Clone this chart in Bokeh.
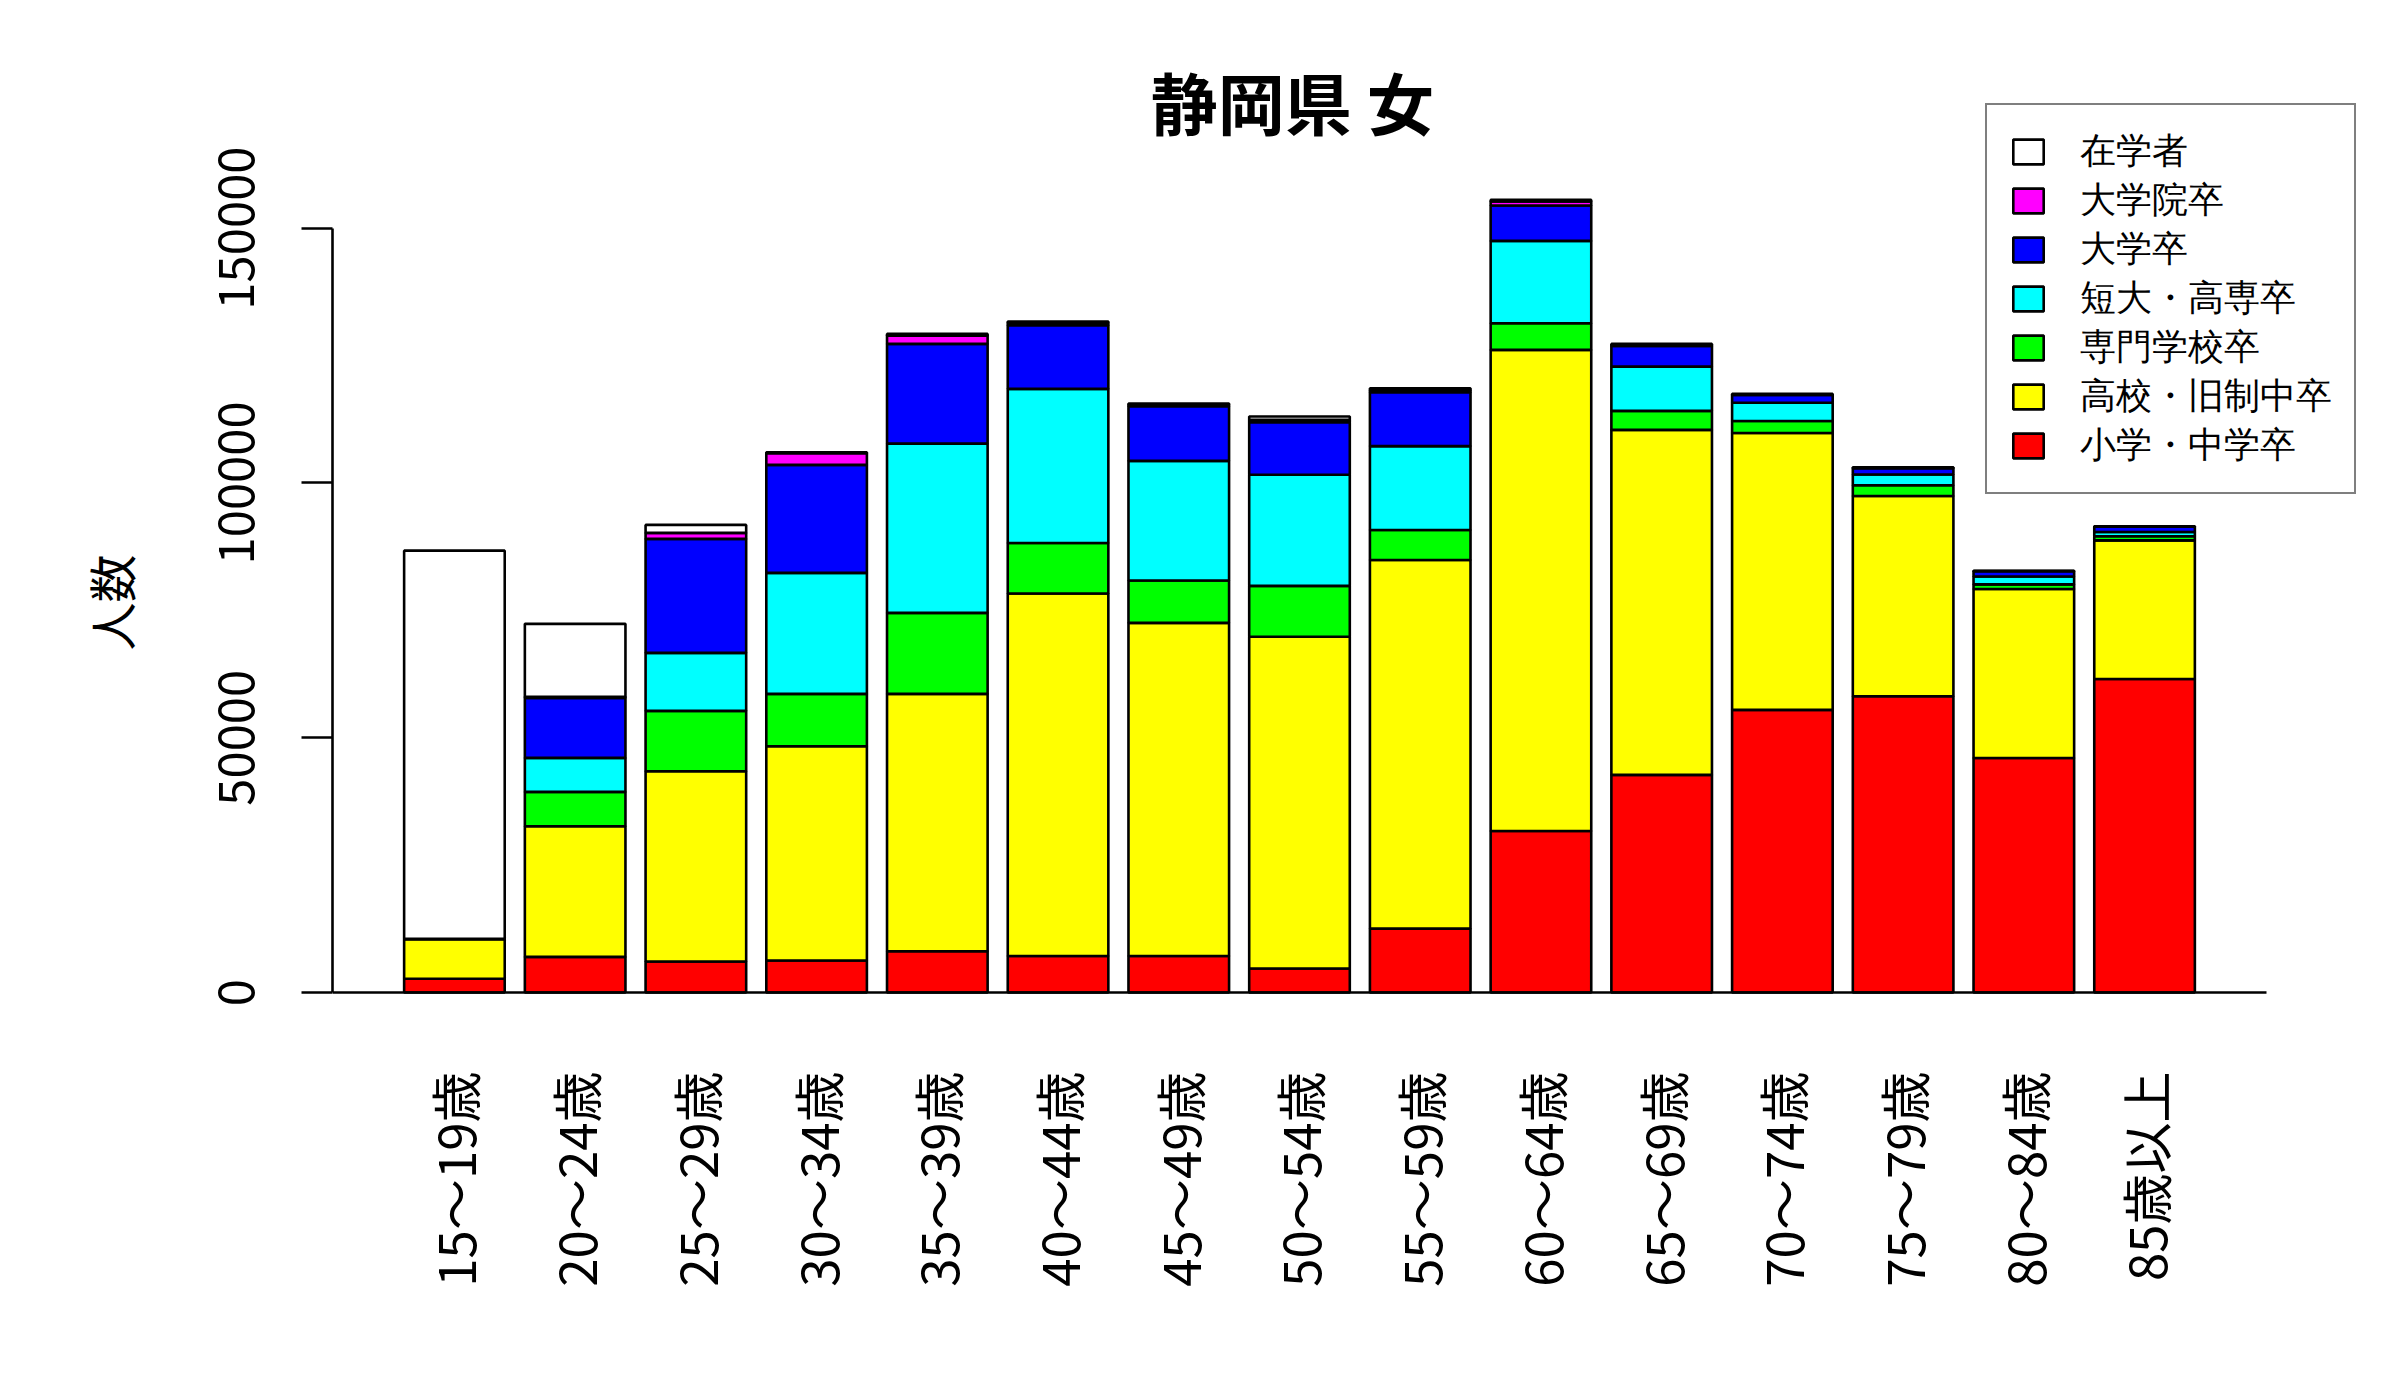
import math
from bokeh.plotting import figure
from bokeh.models import (ColumnDataSource, Range1d, FixedTicker, Legend, LegendItem,
                          BasicTickFormatter, Label, Title)
from bokeh.embed import file_html
from bokeh.resources import INLINE

# ---- data ----
categories = ["15～19歳", "20～24歳", "25～29歳", "30～34歳", "35～39歳", "40～44歳",
              "45～49歳", "50～54歳", "55～59歳", "60～64歳", "65～69歳", "70～74歳",
              "75～79歳", "80～84歳", "85歳以上"]

series_names = ["小学・中学卒", "高校・旧制中卒", "専門学校卒", "短大・高専卒",
                "大学卒", "大学院卒", "在学者"]
series_colors = ["#FF0000", "#FFFF00", "#00FF00", "#00FFFF", "#0000FF", "#FF00FF", "#FFFFFF"]

shogaku_chugaku = [2700, 7000, 6080, 6280, 8100, 7180, 7180, 4730, 12540, 31700, 42700, 55470, 58130, 46030, 61530]
koko_kyusei = [7830, 25630, 37340, 42050, 50500, 71120, 65360, 65080, 72340, 94390, 67700, 54330, 39310, 33140, 27190]
senmon = [0, 6740, 11850, 10270, 15890, 9910, 8320, 9990, 5870, 5230, 3730, 2350, 2110, 920, 820]
tandai_kosen = [0, 6670, 11380, 23740, 33220, 30240, 23460, 21810, 16470, 16160, 8690, 3580, 2100, 1550, 810]
daigaku = [0, 11780, 22360, 21190, 19560, 12480, 10710, 10280, 10560, 6940, 4040, 1520, 1220, 1020, 1040]
daigakuin = [0, 200, 1180, 2270, 1630, 500, 300, 500, 400, 800, 250, 100, 80, 50, 50]
zaigakusha = [76170, 14320, 1570, 200, 330, 220, 230, 620, 390, 300, 160, 110, 120, 50, 50]

y_ticks = [0, 50000, 100000, 150000]
title_text = "静岡県 女"
y_label = "人数"

# ---- layout (barplot style: bar width 10, gap 2) ----
n = len(categories)
xs = [7 + 12 * i for i in range(n)]
XLO, XHI = -5.12, 187.12          # plot region of the original barplot
keys = ["s0", "s1", "s2", "s3", "s4", "s5", "s6"]
data = dict(x=xs)
for k, arr in zip(keys, [shogaku_chugaku, koko_kyusei, senmon, tandai_kosen,
                         daigaku, daigakuin, zaigakusha]):
    data[k] = arr
source = ColumnDataSource(data)

FONT = "Noto Sans CJK JP"

p = figure(width=2384, height=1384, output_backend="svg", toolbar_location=None,
           x_range=Range1d(XLO, 198.85), y_range=Range1d(-7838, 184836),
           min_border_left=332, min_border_right=0, min_border_top=50,
           min_border_bottom=352)
p.background_fill_color = "white"
p.border_fill_color = "white"
p.outline_line_color = None
p.xgrid.visible = False
p.ygrid.visible = False

renderers = p.vbar_stack(keys, x="x", width=10, source=source,
                         fill_color=series_colors, line_color="black", line_width=2.6)

# baseline at zero across the plot region
p.segment(x0=[XLO], y0=[0], x1=[XHI], y1=[0], line_color="black", line_width=2.6)

# main title
p.add_layout(Label(x=(XLO + XHI) / 2 - 0.7, y=175000, text=title_text, text_align="center",
                   text_baseline="middle", text_font=FONT, text_font_size="67px",
                   text_font_style="bold", text_color="black"))

# y axis
ya = p.yaxis[0]
ya.ticker = FixedTicker(ticks=y_ticks)
ya.formatter = BasicTickFormatter(use_scientific=False)
ya.bounds = (0, 150000)
ya.axis_line_width = 2.6
ya.axis_line_color = "black"
ya.major_tick_line_width = 2.6
ya.major_tick_line_color = "black"
ya.major_tick_out = 31
ya.major_tick_in = 0
ya.minor_tick_line_color = None
ya.major_label_orientation = "parallel"
ya.major_label_text_font = FONT
ya.major_label_text_font_size = "49px"
ya.major_label_text_color = "black"
ya.major_label_standoff = 47

# y axis title, placed along the axis
ytitle = Title(text=y_label, align="left", offset=382, vertical_align="middle",
               text_font=FONT, text_font_size="48px", text_font_style="normal",
               text_color="black", standoff=139)
p.add_layout(ytitle, "left")

# x axis
xa = p.xaxis[0]
xa.ticker = FixedTicker(ticks=xs)
xa.major_label_overrides = {x: c for x, c in zip(xs, categories)}
xa.axis_line_color = None
xa.major_tick_line_color = None
xa.minor_tick_line_color = None
xa.major_tick_out = 0
xa.major_tick_in = 0
xa.major_label_orientation = math.pi / 2
xa.major_label_text_font = FONT
xa.major_label_text_font_size = "51px"
xa.major_label_text_color = "black"
xa.major_label_standoff = 39

# legend (top entry = top of stack)
items = [LegendItem(label=name, renderers=[r])
         for name, r in zip(series_names, renderers)][::-1]
legend = Legend(items=items, location=(1653, 538))
legend.label_text_font = "Liberation Sans"
legend.label_text_font_size = "36px"
legend.label_text_color = "black"
legend.glyph_width = 38
legend.glyph_height = 31
legend.label_standoff = 33
legend.label_height = 20
legend.padding = 22
legend.spacing = 0
legend.border_line_color = "black"
legend.border_line_width = 2.6
legend.background_fill_color = "white"
legend.background_fill_alpha = 1.0
p.add_layout(legend)

open("out.html", "w").write(file_html(p, INLINE))
